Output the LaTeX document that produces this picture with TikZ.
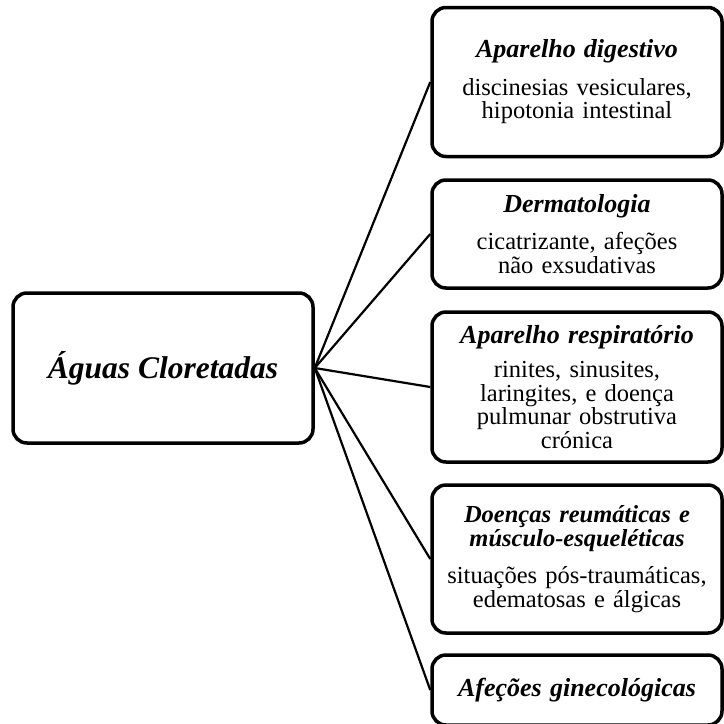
\documentclass[tikz,border=0pt]{standalone}
\usepackage{fontspec}
\setmainfont{Liberation Serif}
\usetikzlibrary{positioning}

\newcommand{\heading}[1]{{\fontsize{26}{26}\selectfont\textbf{\textit{#1}}}}

\begin{document}
\begin{tikzpicture}[
  x=1pt, y=-1pt,
  hub/.style={rectangle, draw, line width=3.5pt, rounded corners=14pt,
              minimum width=300pt, minimum height=150pt, align=center,
              font=\fontsize{31.5}{34}\selectfont\bfseries\itshape},
  topic/.style={rectangle, draw, line width=3.5pt, rounded corners=14pt,
                minimum width=290pt, text width=288pt, align=center, inner sep=1pt,
                font=\fontsize{24.5}{23.5}\selectfont},
  link/.style={line width=2.2pt}
]
  \useasboundingbox (0,0) rectangle (724,724);
  \node[hub](agua) at (163,368){Águas Cloretadas};
  \node[topic, minimum height=149pt](digest) at (577,82)
    {\heading{Aparelho digestivo}\\[14pt]discinesias vesiculares,\\hipotonia intestinal};
  \node[topic, minimum height=108pt](derma) at (577,234)
    {\heading{Dermatologia}\\[14pt]cicatrizante, afeções\\não exsudativas};
  \node[topic, minimum height=150pt](resp) at (577,387)
    {\heading{Aparelho respiratório}\\[11pt]rinites, sinusites,\\laringites, e doença\\pulmunar obstrutiva\\crónica};
  \node[topic, minimum height=148pt](reuma) at (577,559)
    {\textbf{\textit{Doenças reumáticas e}}\\\textbf{\textit{músculo-esqueléticas}}\\[14pt]situações pós-traumáticas,\\edematosas e álgicas};
  \node[topic, minimum height=70pt](gineco) at (577,690)
    {\heading{Afeções ginecológicas}};
  \foreach \t in {digest,derma,resp,reuma,gineco}
    \draw[link](agua.east)--(\t.west);
\end{tikzpicture}
\end{document}
